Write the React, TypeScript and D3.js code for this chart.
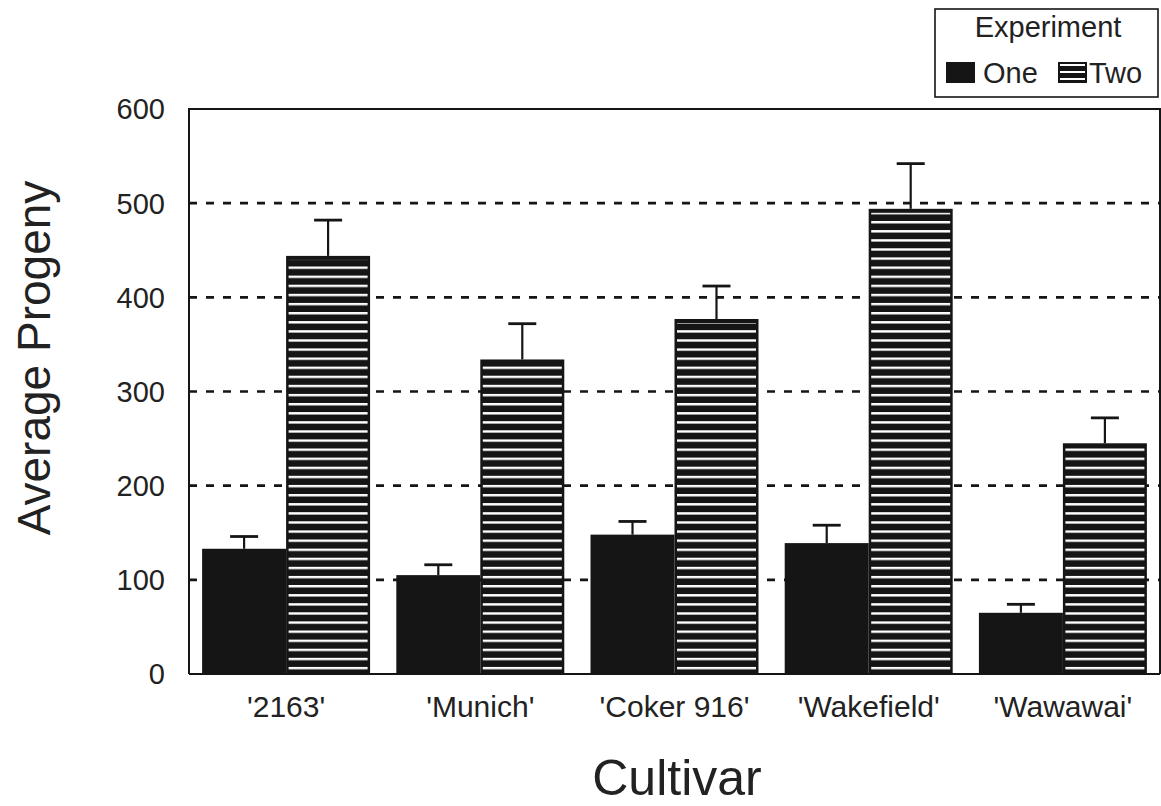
import React from "react";
import * as d3 from "d3";

// values
const cultivars = ["'2163'", "'Munich'", "'Coker 916'", "'Wakefield'", "'Wawawai'"];
const experiments = ["One", "Two"];
const oneMeans = [133, 105, 148, 139, 65];
const oneErrors = [13, 11, 14, 19, 9];
const twoMeans = [444, 334, 377, 494, 245];
const twoErrors = [38, 38, 35, 48, 27];
const yTicks = [0, 100, 200, 300, 400, 500, 600];
const gridValues = [100, 200, 300, 400, 500];

const W = 1161;
const H = 806;
const margin = { top: 109, right: 1, bottom: 132, left: 189 };
const FONT = "'Liberation Sans', Arial, Helvetica, sans-serif";
const INK = "#151515";
const TEXT = "#222";

const App = () => {
  const x = d3
    .scaleBand<string>()
    .domain(cultivars)
    .range([margin.left, W - margin.right])
    .paddingInner(0.135)
    .paddingOuter(0.0675);

  const xInner = d3.scaleBand<string>().domain(experiments).range([0, x.bandwidth()]);

  const y = d3.scaleLinear().domain([0, 600]).range([H - margin.bottom, margin.top]);

  const rows = cultivars.flatMap((c, i) => [
    { cultivar: c, exp: "One", value: oneMeans[i], err: oneErrors[i] },
    { cultivar: c, exp: "Two", value: twoMeans[i], err: twoErrors[i] },
  ]);

  const capHalf = 14;

  return (
    <div style={{ position: "absolute", left: 0, top: 0 }}>
      <svg width={W} height={H} style={{ display: "block", background: "#fff" }}>
        <defs>
          {/* horizontal white stripes on black, lined up with the x axis */}
          <pattern id="stripes" patternUnits="userSpaceOnUse" width={10} height={9.1} y={y(0) + 2}>
            <rect width={10} height={9.1} fill={INK} />
            <rect y={0} width={10} height={2.4} fill="#fff" />
          </pattern>
          <pattern id="stripesLegend" patternUnits="userSpaceOnUse" width={10} height={7} y={64}>
            <rect width={10} height={7} fill={INK} />
            <rect y={0} width={10} height={2} fill="#fff" />
          </pattern>
        </defs>

        {/* dashed grid */}
        {gridValues.map((v) => (
          <line
            key={v}
            x1={margin.left}
            x2={W - margin.right}
            y1={y(v)}
            y2={y(v)}
            stroke={INK}
            strokeWidth={2.6}
            strokeDasharray="8,9"
          />
        ))}

        {/* bars */}
        {rows.map((d) => {
          const bx = (x(d.cultivar) ?? 0) + (xInner(d.exp) ?? 0);
          const bw = xInner.bandwidth();
          const top = y(d.value);
          const cx = bx + bw / 2;
          return (
            <g key={d.cultivar + d.exp}>
              <line x1={cx} x2={cx} y1={top} y2={y(d.value + d.err)} stroke={INK} strokeWidth={2.2} />
              <line
                x1={cx - capHalf}
                x2={cx + capHalf}
                y1={y(d.value + d.err)}
                y2={y(d.value + d.err)}
                stroke={INK}
                strokeWidth={2.8}
              />
              {d.exp === "One" ? (
                <rect x={bx} y={top} width={bw} height={y(0) - top} fill={INK} />
              ) : (
                <>
                  <rect x={bx} y={top} width={bw} height={y(0) - top} fill={INK} />
                  <rect
                    x={bx + 2.5}
                    y={top + 4}
                    width={bw - 5}
                    height={y(0) - top - 4}
                    fill="url(#stripes)"
                  />
                </>
              )}
            </g>
          );
        })}

        {/* frame */}
        <path
          d={`M${margin.left},${y(0)}V${y(600)}H${W - margin.right}V${y(0)}`}
          fill="none"
          stroke={INK}
          strokeWidth={2}
        />
        <line x1={margin.left} x2={W - margin.right} y1={y(0)} y2={y(0)} stroke={INK} strokeWidth={2} />

        {/* y tick labels */}
        {yTicks.map((t) => (
          <text
            key={t}
            x={165}
            y={y(t)}
            dy="0.36em"
            textAnchor="end"
            fontFamily={FONT}
            fontSize={29}
            fill={TEXT}
          >
            {t}
          </text>
        ))}

        {/* x tick labels */}
        {cultivars.map((c) => (
          <text
            key={c}
            x={(x(c) ?? 0) + x.bandwidth() / 2}
            y={717}
            textAnchor="middle"
            fontFamily={FONT}
            fontSize={30}
            fill={TEXT}
          >
            {c}
          </text>
        ))}

        {/* axis titles */}
        <text x={677} y={795} textAnchor="middle" fontFamily={FONT} fontSize={50} fill={TEXT}>
          Cultivar
        </text>
        <text
          transform="translate(50,358) rotate(-90)"
          textAnchor="middle"
          fontFamily={FONT}
          fontSize={46}
          fill={TEXT}
        >
          Average Progeny
        </text>

        {/* legend */}
        <g>
          <rect x={935} y={9} width={223} height={88} fill="#fff" stroke={INK} strokeWidth={1.6} />
          <text x={1048} y={37} textAnchor="middle" fontFamily={FONT} fontSize={29} fill={TEXT}>
            Experiment
          </text>
          <rect x={946} y={62} width={29} height={21} fill={INK} />
          <text x={983} y={83} fontFamily={FONT} fontSize={29} fill={TEXT}>
            One
          </text>
          <rect x={1058} y={62} width={29} height={21} fill={INK} />
          <rect x={1060} y={64} width={25} height={18} fill="url(#stripesLegend)" />
          <text x={1089} y={83} fontFamily={FONT} fontSize={29} fill={TEXT}>
            Two
          </text>
        </g>
      </svg>
    </div>
  );
};

export default App;
